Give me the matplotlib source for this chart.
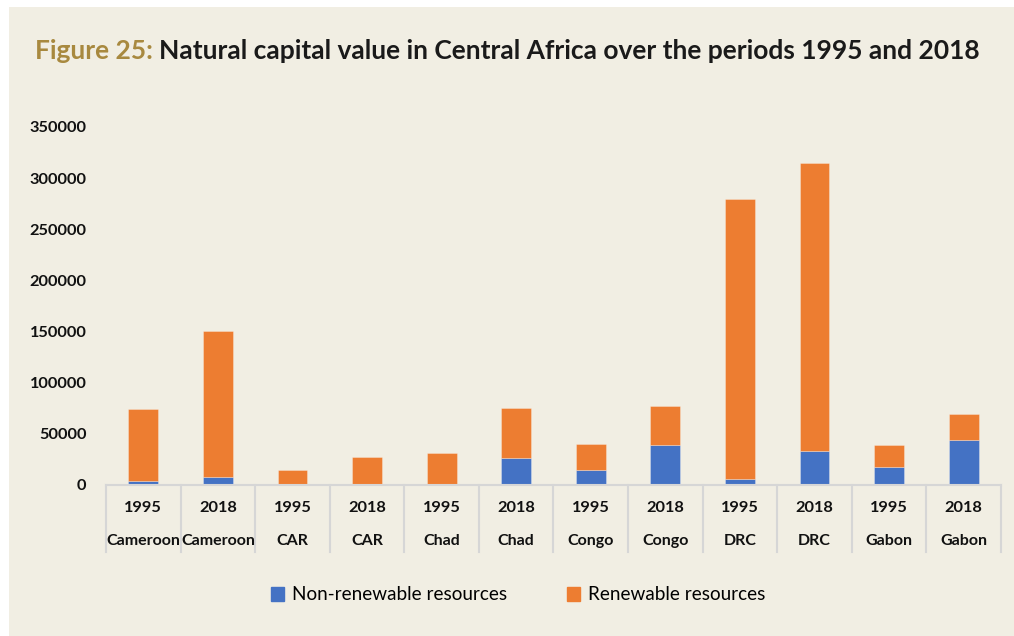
import matplotlib
matplotlib.use("Agg")
import matplotlib.pyplot as plt
import matplotlib.transforms as mtransforms
from matplotlib.patches import Rectangle, Patch

# data
years = ["1995", "2018", "1995", "2018", "1995", "2018",
         "1995", "2018", "1995", "2018", "1995", "2018"]
countries = ["Cameroon", "Cameroon", "CAR", "CAR", "Chad", "Chad",
             "Congo", "Congo", "DRC", "DRC", "Gabon", "Gabon"]
non_renewable = [3500, 7600, 0, 0, 0, 25600, 13900, 38900, 5700, 32400, 17400, 43800]
total = [74000, 150000, 14500, 26900, 30500, 74700, 39300, 76700, 280000, 315000, 38600, 69100]
renewable = [t - n for t, n in zip(total, non_renewable)]
yticks = [0, 50000, 100000, 150000, 200000, 250000, 300000, 350000]

bg = "#F1EEE3"
blue = "#4472C4"
orange = "#ED7D31"
grid_col = "#D6D6D6"

fig = plt.figure(figsize=(10.14, 6.36), dpi=100, facecolor="white")
fig.patches.append(Rectangle((9 / 1014, 0), 1 - 9 / 1014, 1 - 7 / 636,
                             transform=fig.transFigure, facecolor=bg,
                             edgecolor="none", zorder=-10))

ax = fig.add_axes([106 / 1014, 1 - 484.5 / 636, (1001 - 106) / 1014, (484.5 - 127) / 636])
ax.set_facecolor(bg)

x = range(len(years))
ax.bar(x, non_renewable, width=0.4, color=blue, edgecolor="#FFFFFF55", linewidth=0.6)
ax.bar(x, renewable, width=0.4, bottom=non_renewable, color=orange,
       edgecolor="#FFFFFF55", linewidth=0.6)

ax.set_xlim(-0.5, len(years) - 0.5)
ax.set_ylim(0, 350000)
ax.set_yticks(yticks)
ax.set_yticklabels([str(v) for v in yticks], fontfamily="Lato", fontweight="bold",
                   fontsize=11.8, color="#111111")
ax.tick_params(axis="y", length=0, pad=14)
ax.set_xticks([])
for s in ["top", "right", "left"]:
    ax.spines[s].set_visible(False)
ax.spines["bottom"].set_color(grid_col)
ax.spines["bottom"].set_linewidth(1.5)

# two-level category axis
trans = mtransforms.blended_transform_factory(ax.transData, ax.transAxes)
for b in range(len(years) + 1):
    ax.plot([b - 0.5, b - 0.5], [0, -0.19], color=grid_col, lw=1.5,
            transform=trans, clip_on=False)
for i, (yr, c) in enumerate(zip(years, countries)):
    ax.text(i, -0.066, yr, transform=trans, ha="center", va="center",
            fontfamily="Lato", fontweight="bold", fontsize=11.8, color="#111111")
    ax.text(i, -0.158, c, transform=trans, ha="center", va="center",
            fontfamily="Lato", fontweight="bold", fontsize=11.5, color="#111111")

# title
t1 = fig.text(35 / 1014, 1 - 51 / 636, "Figure 25: ", color="#A8893F",
              fontfamily="Lato", fontweight="bold", fontsize=19, va="center", ha="left")
fig.canvas.draw()
bb = t1.get_window_extent()
fig.text(bb.x1 / 1014, 1 - 51 / 636,
         "Natural capital value in Central Africa over the periods 1995 and 2018",
         color="#1A1A1A", fontfamily="Lato", fontweight="bold", fontsize=19,
         va="center", ha="left")

handles = [Patch(color=blue, label="Non-renewable resources"),
           Patch(color=orange, label="Renewable resources")]
fig.legend(handles=handles, loc="center", bbox_to_anchor=(518 / 1014, 1 - 595 / 636),
           ncol=2, frameon=False, prop={"family": "Lato", "size": 13.6},
           handlelength=0.7, handleheight=0.7, handletextpad=0.4, columnspacing=3.2)

fig.savefig("out.png", dpi=100, facecolor=fig.get_facecolor())
